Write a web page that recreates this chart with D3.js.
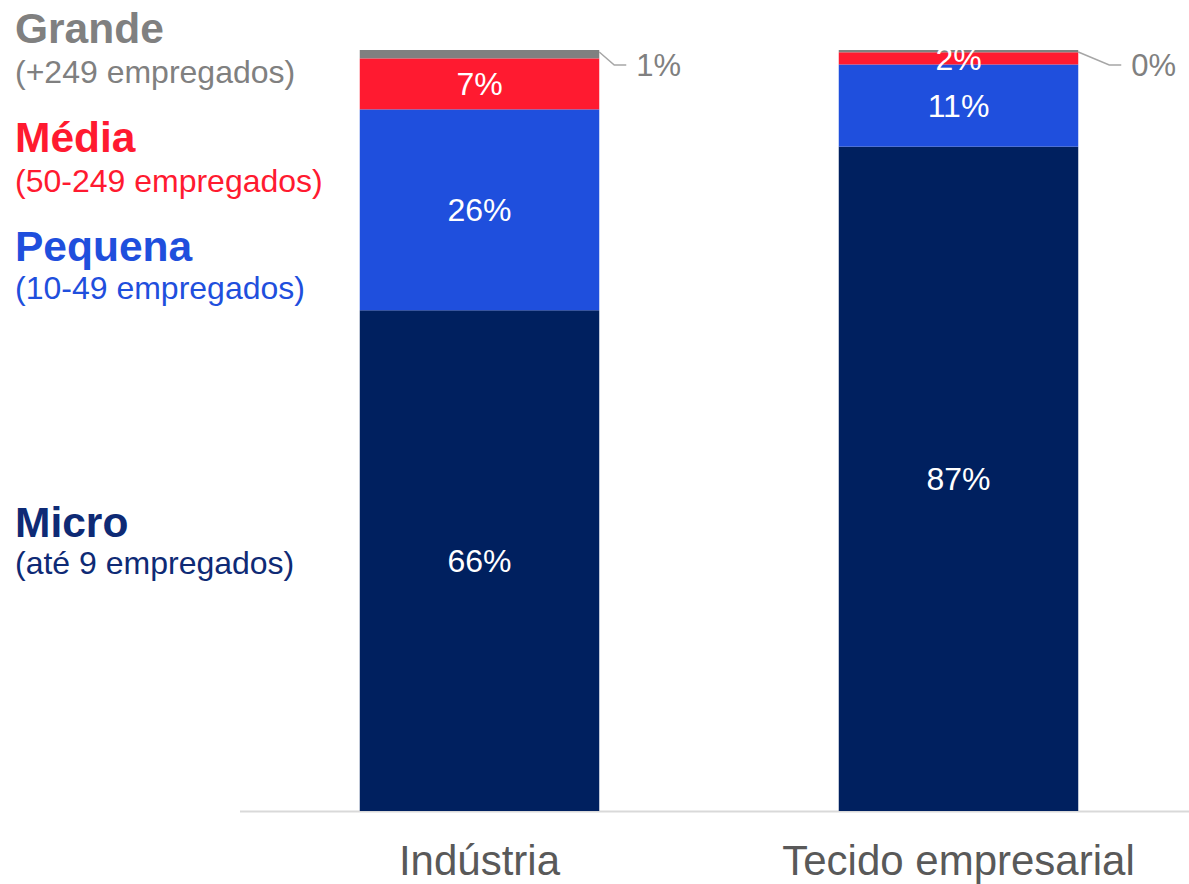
<!DOCTYPE html>
<html><head><meta charset="utf-8">
<script src="https://cdn.jsdelivr.net/npm/d3@7"></script>
<style>html,body{margin:0;padding:0;background:#fff;}svg{display:block;font-family:"Liberation Sans",Arial,sans-serif;}</style>
</head><body>
<svg id="chart" width="1189" height="884"></svg>
<script>
const categories = ["Indústria", "Tecido empresarial"];
const seriesNames = ["Micro", "Pequena", "Média", "Grande"];
const seriesSub = ["(até 9 empregados)", "(10-49 empregados)", "(50-249 empregados)", "(+249 empregados)"];
const micro = [65.8, 87.3];
const pequena = [26.4, 10.8];
const media = [6.7, 1.6];
const grande = [1.1, 0.3];
const colors = ["#00205F", "#1F4FDD", "#FF1A30", "#808080"];
const labelColors = ["#0E2A75", "#1F4FDD", "#FF1A30", "#808080"];

const svg = d3.select("#chart");
const y = d3.scaleLinear().domain([0, 100]).range([811, 50]);
const x = d3.scaleBand().domain(categories).range([240, 1198]).paddingInner(0.5).paddingOuter(0.25);

const data = categories.map((c, i) => ({cat: c, Micro: micro[i], Pequena: pequena[i], "Média": media[i], Grande: grande[i]}));
const stack = d3.stack().keys(seriesNames)(data);

// axis line
svg.append("line").attr("x1", 240).attr("x2", 1189).attr("y1", y(0) + 0.5).attr("y2", y(0) + 0.5)
  .attr("stroke", "#d9d9d9").attr("stroke-width", 2);

stack.forEach((layer, li) => {
  svg.append("g").selectAll("rect").data(layer).join("rect")
    .attr("x", d => x(d.data.cat))
    .attr("width", x.bandwidth())
    .attr("y", d => y(d[1]))
    .attr("height", d => y(d[0]) - y(d[1]))
    .attr("fill", colors[li]);
});

// inside labels (Micro, Pequena, Média)
stack.slice(0, 3).forEach(layer => {
  svg.append("g").selectAll("text").data(layer).join("text")
    .attr("x", d => x(d.data.cat) + x.bandwidth() / 2)
    .attr("y", d => (y(d[0]) + y(d[1])) / 2)
    .attr("dy", "0.36em")
    .attr("text-anchor", "middle")
    .attr("fill", "#fff")
    .attr("font-size", 32)
    .text(d => Math.round(d[1] - d[0]) + "%");
});

// Grande leader labels
const gl = stack[3];
const leaderDx = [15, 31];
gl.forEach((d, i) => {
  const x0 = x(d.data.cat) + x.bandwidth();
  const y0 = y(d[1]) + 2;
  const x1 = x0 + leaderDx[i];
  const y1 = y0 + 13;
  svg.append("path").attr("d", `M${x0},${y0}L${x1},${y1}L${x1 + 12},${y1}`)
    .attr("fill", "none").attr("stroke", "#A6A6A6").attr("stroke-width", 1.5);
  svg.append("text").attr("x", x1 + 22).attr("y", y1).attr("dy", "0.36em")
    .attr("fill", "#808080").attr("font-size", 31)
    .text(Math.round(d[1] - d[0]) + "%");
});

// category labels
svg.append("g").selectAll("text").data(categories).join("text")
  .attr("x", d => x(d) + x.bandwidth() / 2)
  .attr("y", 875)
  .attr("text-anchor", "middle")
  .attr("fill", "#595959")
  .attr("font-size", 42)
  .text(d => d);

// legend on the left
const legendY = {"Grande": [43, 83], "Média": [152, 192], "Pequena": [261, 299], "Micro": [537, 574]};
seriesNames.forEach((s, i) => {
  const g = svg.append("g");
  g.append("text").attr("x", 15).attr("y", legendY[s][0]).attr("font-size", 42.5).attr("font-weight", "bold")
    .attr("fill", labelColors[i]).text(s);
  g.append("text").attr("x", 15).attr("y", legendY[s][1]).attr("font-size", 32)
    .attr("fill", labelColors[i]).text(seriesSub[i]);
});
</script>
</body></html>
